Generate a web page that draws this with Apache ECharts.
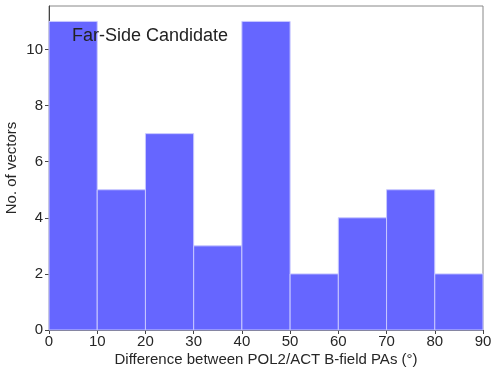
<!DOCTYPE html>
<html>
<head>
<meta charset="utf-8">
<script src="https://cdn.jsdelivr.net/npm/echarts@6/dist/echarts.min.js"></script>
<style>
  html, body { margin: 0; padding: 0; background: #fff; }
  #main { width: 499px; height: 377px; }
</style>
</head>
<body>
<div id="main"></div>
<script>
// histogram bins (degrees) and counts
var binStart = [0, 10, 20, 30, 40, 50, 60, 70, 80];
var binEnd = [10, 20, 30, 40, 50, 60, 70, 80, 90];
var counts = [11, 5, 7, 3, 11, 2, 4, 5, 2];
var yTicks = [0, 2, 4, 6, 8, 10];
var xTicks = [0, 10, 20, 30, 40, 50, 60, 70, 80, 90];

var myChart = echarts.init(document.getElementById('main'));

var barData = [];
for (var i = 0; i < counts.length; i++) {
    barData.push([binStart[i], binEnd[i], counts[i]]);
}

var font = 'Liberation Sans, Arial, Helvetica, sans-serif';

var option = {
    animation: false,
    title: {
        text: 'Far-Side Candidate',
        left: 67,
        top: 22,
        textStyle: { fontFamily: font, fontSize: 18, fontWeight: 'normal', color: '#222' }
    },
    grid: {
        left: 49, top: 6, right: 16, bottom: 47,
        outerBoundsMode: 'none',
        containLabel: false,
        show: true, borderColor: '#888', borderWidth: 1
    },
    xAxis: {
        type: 'value', min: 0, max: 90, interval: 10,
        name: 'Difference between POL2/ACT B-field PAs (°)',
        nameLocation: 'middle', nameGap: 30, nameMoveOverlap: false,
        nameTextStyle: { fontFamily: font, fontSize: 15, color: '#262626', verticalAlign: 'middle' },
        axisLine: { show: true, lineStyle: { color: '#444' } },
        axisTick: { show: true, length: 4, lineStyle: { color: '#444' } },
        axisLabel: { fontFamily: font, fontSize: 15, color: '#262626', margin: 4, customValues: xTicks },
        splitLine: { show: false }
    },
    yAxis: {
        type: 'value', min: 0, max: 11.55,
        name: 'No. of vectors',
        nameLocation: 'middle', nameGap: 37, nameMoveOverlap: false,
        nameTextStyle: { fontFamily: font, fontSize: 15, color: '#262626', verticalAlign: 'middle' },
        axisLine: { show: true, lineStyle: { color: '#444' } },
        axisTick: { show: true, length: 4, lineStyle: { color: '#444' }, customValues: yTicks },
        axisLabel: { fontFamily: font, fontSize: 15, color: '#262626', margin: 6, customValues: yTicks },
        splitLine: { show: false }
    },
    series: [{
        type: 'custom',
        data: barData,
        encode: { x: [0, 1], y: 2 },
        renderItem: function (params, api) {
            var p0 = api.coord([api.value(0), api.value(2)]);
            var p1 = api.coord([api.value(1), 0]);
            return {
                type: 'rect',
                shape: { x: p0[0], y: p0[1], width: p1[0] - p0[0], height: p1[1] - p0[1] },
                style: { fill: '#6666ff', stroke: '#c8c8ff', lineWidth: 1 }
            };
        }
    }]
};

myChart.setOption(option);
</script>
</body>
</html>
